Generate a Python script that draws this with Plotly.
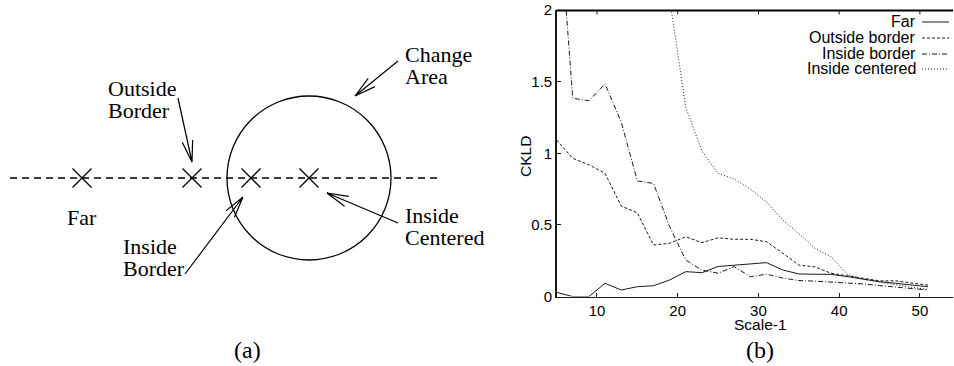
import math
import plotly.graph_objects as go

# ---------------- data (panel b) ----------------
scale = [5, 7, 9, 11, 13, 15, 17, 19, 21, 23, 25, 27, 29, 31, 33, 35, 37, 39, 41, 43, 45, 47, 49, 51]
far = [0.03, 0.0, 0.0, 0.093, 0.046, 0.069, 0.076, 0.116, 0.174, 0.167, 0.21, 0.22,
       0.23, 0.237, 0.186, 0.158, 0.156, 0.155, 0.14, 0.122, 0.104, 0.093, 0.08, 0.069]
outside_border = [1.093, 0.965, 0.92, 0.86, 0.632, 0.585, 0.36, 0.372, 0.418, 0.376, 0.41, 0.40,
                  0.40, 0.383, 0.304, 0.22, 0.207, 0.163, 0.145, 0.125, 0.11, 0.11, 0.095, 0.08]
inside_border = [2.9, 1.384, 1.367, 1.484, 1.22, 0.807, 0.79, 0.488, 0.255, 0.185, 0.163, 0.209,
                 0.139, 0.156, 0.13, 0.112, 0.108, 0.102, 0.098, 0.088, 0.077, 0.068, 0.056, 0.046]
inside_centered = [5.0, 4.6, 4.2, 3.8, 3.4, 3.0, 2.6, 2.08, 1.32, 1.016, 0.86, 0.82,
                   0.75, 0.66, 0.535, 0.44, 0.337, 0.278, 0.155, 0.12, 0.1, 0.085, 0.065, 0.05]
series_names = ["Far", "Outside border", "Inside border", "Inside centered"]
x_ticks = [10, 20, 30, 40, 50]
y_ticks = [0, 0.5, 1, 1.5, 2]
x_title = "Scale-1"
y_title = "CKLD"

# ---------------- layout constants ----------------
W, H = 954, 366
SANS = "Liberation Sans, Arial, sans-serif"
SERIF = "Liberation Serif, Times New Roman, serif"
INK = "#1a1a1a"
dashes = ["solid", "3px,2px", "5px,2px,1px,2px", "1px,2px"]
X_RANGE = [5, 54.1]
x_dom = [556.6 / W, 953 / W]
y_dom = [1 - 296.6 / H, 1 - 10 / H]

fig = go.Figure()

for name, vals, dash in zip(series_names, [far, outside_border, inside_border, inside_centered], dashes):
    fig.add_trace(go.Scatter(x=scale, y=vals, mode="lines", name=name, showlegend=False,
                             line=dict(color=INK, width=1, dash=dash), hoverinfo="skip"))

# diagram (panel a): cross marks on the dashed line, in a pixel coordinate axis x2/y2
line_y = 178
cross_x = [82, 192, 251, 309]
fig.add_trace(go.Scatter(x=cross_x, y=[line_y] * 4, xaxis="x2", yaxis="y2", mode="markers",
                         showlegend=False, hoverinfo="skip",
                         marker=dict(symbol="x-thin", size=19, line=dict(width=1.3, color="black"))))

shapes = []
annotations = []
shapes.append(dict(type="line", xref="x2", yref="y2", x0=10, x1=442, y0=line_y, y1=line_y,
                   line=dict(color="black", width=1.3, dash="7px,5px")))
cx, cy, r = 309, 178, 82
shapes.append(dict(type="circle", xref="x2", yref="y2", x0=cx - r, x1=cx + r, y0=cy - r, y1=cy + r,
                   line=dict(color="black", width=1.3)))


def arrow(tail, head, arm=22, half=14):
    tx, ty = tail
    hx, hy = head
    ang = math.atan2(ty - hy, tx - hx)
    a1 = ang + math.radians(half)
    a2 = ang - math.radians(half)
    p1 = (hx + arm * math.cos(a1), hy + arm * math.sin(a1))
    p2 = (hx + arm * math.cos(a2), hy + arm * math.sin(a2))
    path = f"M{tx},{ty} L{hx},{hy} M{p1[0]:.2f},{p1[1]:.2f} L{hx},{hy} L{p2[0]:.2f},{p2[1]:.2f}"
    return dict(type="path", xref="x2", yref="y2", path=path, line=dict(color="black", width=1.2))


shapes.append(arrow((178, 98), (192, 162)))     # Outside Border
shapes.append(arrow((398, 61), (355, 96)))      # Change Area
shapes.append(arrow((185, 274), (243, 197)))    # Inside Border
shapes.append(arrow((398, 223), (327, 193)))    # Inside Centered

# top frame line of panel b with inward ticks (ticks placed through the x axis scale)
top_px = 10.5
shapes.append(dict(type="line", xref="x2", yref="y2", x0=556.6, x1=953, y0=top_px, y1=top_px,
                   line=dict(color="black", width=2)))
for t in x_ticks:
    shapes.append(dict(type="line", xref="x", yref="paper", x0=t, x1=t,
                       y0=1 - top_px / H, y1=1 - (top_px + 4) / H, line=dict(color=INK, width=1)))


def txt(s, x, y, anchor="left", size=22, font=SERIF, angle=0):
    annotations.append(dict(text=s, x=x, y=y, xref="x2", yref="y2", showarrow=False,
                            xanchor=anchor, yanchor="middle", textangle=angle, borderpad=0,
                            font=dict(family=font, size=size, color="black")))


txt("Far", 82, 217, anchor="center")
txt("Outside", 107, 88)
txt("Border", 107, 110)
txt("Change", 404, 54)
txt("Area", 404, 76)
txt("Inside", 122, 246)
txt("Border", 122, 268)
txt("Inside", 404, 215)
txt("Centered", 404, 237)
txt("(a)", 247, 350, anchor="center", size=24)
txt("(b)", 760, 350, anchor="center", size=24)

txt(x_title, 760, 324, anchor="center", size=15.5, font=SANS)
txt(y_title, 525, 157, anchor="center", size=15.5, font=SANS, angle=-90)

# legend: text right-aligned, line sample to its right
leg_rows = [21, 37, 53, 68]
for name, dash, ry in zip(series_names, dashes, leg_rows):
    txt(name, 917, ry, anchor="right", size=16, font=SANS)
    shapes.append(dict(type="line", xref="x2", yref="y2", x0=922, x1=949, y0=ry + 1, y1=ry + 1,
                       line=dict(color=INK, width=1, dash=dash)))

axis_common = dict(showline=True, linecolor=INK, linewidth=1.4, ticks="inside", ticklen=4,
                   tickcolor=INK, tickwidth=1, showgrid=False, zeroline=False, automargin=False,
                   tickfont=dict(family=SANS, size=15, color="black"))

fig.update_layout(
    template="none",
    width=W, height=H, autosize=False,
    margin=dict(l=0, r=0, t=0, b=0, pad=0, autoexpand=False),
    paper_bgcolor="white", plot_bgcolor="rgba(0,0,0,0)",
    showlegend=False,
    xaxis=dict(domain=x_dom, range=X_RANGE, tickvals=x_ticks, anchor="y", **axis_common),
    yaxis=dict(domain=y_dom, range=[0, 2], tickvals=y_ticks, anchor="x", **axis_common),
    xaxis2=dict(domain=[0, 1], range=[0, W], visible=False, anchor="y2", fixedrange=True,
                automargin=False),
    yaxis2=dict(domain=[0, 1], range=[H, 0], visible=False, anchor="x2", fixedrange=True,
                automargin=False),
    shapes=shapes,
    annotations=annotations,
)

fig.write_html("out.html",
               config={"displayModeBar": False, "staticPlot": True},
               post_script="document.body.style.margin='0';document.body.style.overflow='hidden';")
